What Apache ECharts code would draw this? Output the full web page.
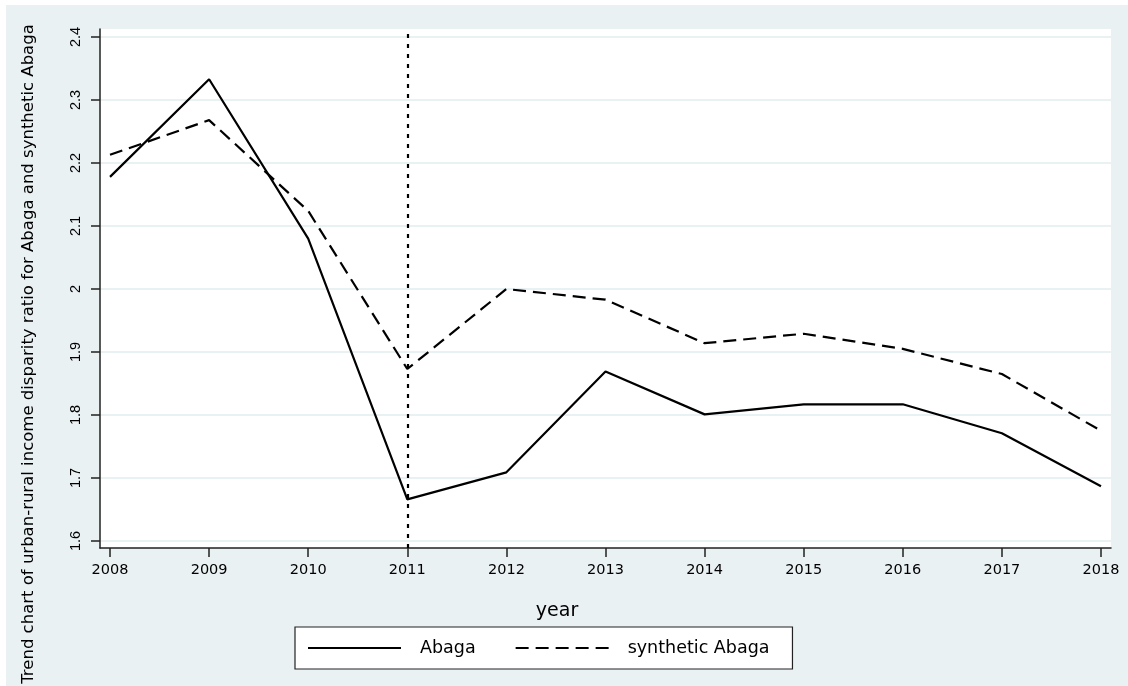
<!DOCTYPE html>
<html>
<head>
<meta charset="utf-8">
<script src="https://cdn.jsdelivr.net/npm/echarts@6/dist/echarts.min.js"></script>
<style>
  html, body { margin: 0; padding: 0; background: #ffffff; }
  #bg { position: absolute; left: 6px; top: 5px; width: 1122px; height: 681px; background: #EAF1F3; }
  #chart { position: absolute; left: 0; top: 0; width: 1128px; height: 686px; }
</style>
</head>
<body>
<div id="bg"></div>
<div id="chart"></div>
<script>
// ---- data ----
const years = [2008, 2009, 2010, 2011, 2012, 2013, 2014, 2015, 2016, 2017, 2018];
const abaga = [2.178, 2.333, 2.080, 1.666, 1.709, 1.869, 1.801, 1.817, 1.817, 1.771, 1.687];
const syntheticAbaga = [2.213, 2.268, 2.124, 1.873, 2.000, 1.983, 1.914, 1.929, 1.905, 1.865, 1.775];
const xTicks = [2008, 2009, 2010, 2011, 2012, 2013, 2014, 2015, 2016, 2017, 2018];
const yTicks = [1.6, 1.7, 1.8, 1.9, 2.0, 2.1, 2.2, 2.3, 2.4];
const treatmentYear = 2011;
const seriesNames = ['Abaga', 'synthetic Abaga'];
const yTitle = 'Trend chart of urban-rural income disparity ratio for Abaga and synthetic Abaga';
const xTitle = 'year';

const chart = echarts.init(document.getElementById('chart'), null, { renderer: 'canvas' });
const axisColor = '#222';
const gridColor = '#EAF1F3';

const option = {
  animation: false,
  backgroundColor: 'transparent',
  grid: {
    left: 100, top: 29, right: 17, bottom: 138,
    show: true, backgroundColor: '#ffffff', borderWidth: 0
  },
  xAxis: {
    type: 'value',
    min: 2007.899, max: 2018.101,
    axisLine: { show: true, onZero: false, lineStyle: { color: axisColor, width: 1.5 } },
    axisTick: { show: true, customValues: xTicks, length: 9, lineStyle: { color: axisColor, width: 1.5 } },
    axisLabel: {
      customValues: xTicks, color: '#000', fontFamily: 'DejaVu Sans', fontSize: 14.5, margin: 15,
      formatter: v => String(Math.round(v))
    },
    splitLine: { show: false }
  },
  yAxis: {
    type: 'value',
    min: 1.5889, max: 2.4127,
    axisLine: { show: true, onZero: false, lineStyle: { color: axisColor, width: 1.5 } },
    axisTick: { show: true, customValues: yTicks, length: 9, lineStyle: { color: axisColor, width: 1.5 } },
    axisLabel: {
      customValues: yTicks, rotate: 90, color: '#000', fontFamily: 'Liberation Sans', fontSize: 14.5, margin: 17,
      formatter: v => String(+(+v).toFixed(1))
    },
    splitLine: { show: true, lineStyle: { color: gridColor, width: 2 } }
  },
  legend: {
    data: seriesNames,
    left: 295, top: 627,
    orient: 'horizontal',
    itemWidth: 93, itemHeight: 14, itemGap: 39,
    padding: [12, 23, 12, 12],
    borderColor: '#222', borderWidth: 1.2, backgroundColor: '#ffffff',
    itemStyle: { opacity: 0 },
    textStyle: { fontFamily: 'DejaVu Sans', fontSize: 17.5, color: '#000', padding: [0, 0, 0, 14] }
  },
  graphic: [
    {
      type: 'text', x: 29, y: 354, rotation: Math.PI / 2,
      style: { text: yTitle, font: '16.5px "DejaVu Sans"', fill: '#000', textAlign: 'center', textVerticalAlign: 'middle' }
    },
    {
      type: 'text', x: 557, y: 611,
      style: { text: xTitle, font: '19px "DejaVu Sans"', fill: '#000', textAlign: 'center', textVerticalAlign: 'middle' }
    }
  ],
  series: [
    {
      name: seriesNames[0], type: 'line', symbol: 'none', showSymbol: false,
      data: years.map((y, i) => [y, abaga[i]]),
      lineStyle: { color: '#000', width: 2.2, type: 'solid' },
      itemStyle: { color: '#000' },
      markLine: {
        silent: true, symbol: ['none', 'none'], label: { show: false },
        lineStyle: { color: '#000', width: 2.2, type: [4, 6] },
        emphasis: { disabled: true },
        data: [{ xAxis: treatmentYear }]
      },
      z: 3
    },
    {
      name: seriesNames[1], type: 'line', symbol: 'none', showSymbol: false,
      data: years.map((y, i) => [y, syntheticAbaga[i]]),
      lineStyle: { color: '#000', width: 2.2, type: [13, 7] },
      itemStyle: { color: '#000' },
      z: 3
    }
  ]
};
chart.setOption(option);
</script>
</body>
</html>
